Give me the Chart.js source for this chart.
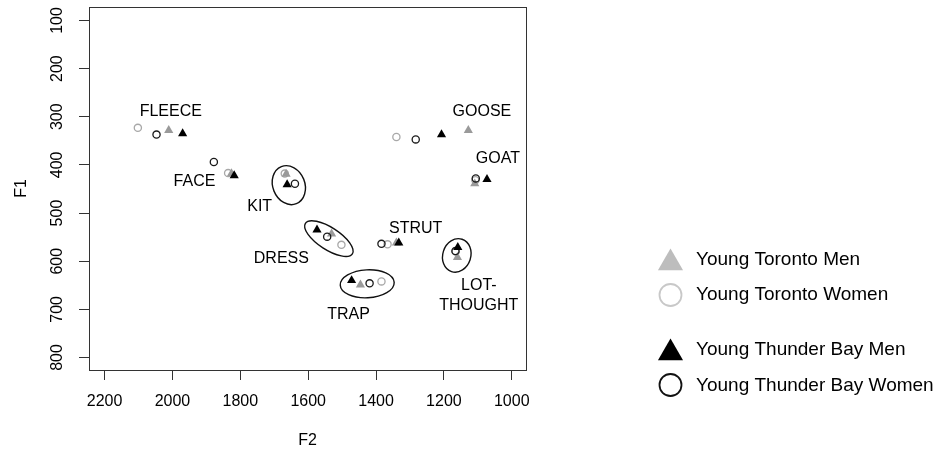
<!DOCTYPE html>
<html>
<head>
<meta charset="utf-8">
<script src="https://cdn.jsdelivr.net/npm/chart.js@4.4.1/dist/chart.umd.min.js"></script>
<style>
html, body { margin: 0; padding: 0; background: #fff; }
</style>
</head>
<body>
<canvas id="myChart" width="938" height="450"></canvas>
<script>
// vowel order used by every series below
var vowels = ['FLEECE', 'FACE', 'KIT', 'DRESS', 'TRAP', 'STRUT', 'LOT-THOUGHT', 'GOOSE', 'GOAT'];

// Young Toronto Men (grey triangles)
var toMenF2 = [2011, 1826, 1665, 1531, 1446, 1340, 1160, 1128, 1109];
var toMenF1 = [328, 418, 419, 543, 649, 562, 592, 328, 439];
// Young Toronto Women (grey circles)
var toWomenF2 = [2102, 1836, 1669, 1502, 1384, 1366, 1165, 1340, 1107];
var toWomenF1 = [323, 417, 418, 566, 642, 565, 580, 342, 432];
// Young Thunder Bay Men (black triangles)
var tbMenF2 = [1970, 1818, 1662, 1574, 1472, 1333, 1159, 1207, 1073];
var tbMenF1 = [335, 422, 441, 535, 640, 562, 571, 337, 430];
// Young Thunder Bay Women (black circles)
var tbWomenF2 = [2047, 1878, 1639, 1544, 1419, 1384, 1166, 1283, 1106];
var tbWomenF1 = [337, 394, 439, 549, 646, 564, 579, 347, 428];

// vowel labels
var labelText = [['FLEECE'], ['FACE'], ['KIT'], ['DRESS'], ['TRAP'], ['STRUT'], ['LOT-', 'THOUGHT'], ['GOOSE'], ['GOAT']];
var labelF2 = [2005, 1935, 1743, 1679, 1481, 1283, 1097, 1088, 1041];
var labelF1 = [290, 435, 486, 594, 710, 532, 671, 290, 387];

// ellipses round the clusters
var ellipseVowels = ['KIT', 'DRESS', 'TRAP', 'LOT-THOUGHT'];
var ellipseF2 = [1657, 1539, 1426, 1162];
var ellipseF1 = [442, 553, 647, 588];

var xTicks = [2200, 2000, 1800, 1600, 1400, 1200, 1000];
var yTicks = [100, 200, 300, 400, 500, 600, 700, 800];

var seriesNames = ['Young Toronto Men', 'Young Toronto Women', 'Young Thunder Bay Men', 'Young Thunder Bay Women'];

function pts(f2, f1)
{
    var out = [];
    for (var i = 0; i < f2.length; i++) {
        out.push({x: f2[i], y: f1[i]});
    }
    return out;
}

var ellipseShape = [
    {rx: 16, ry: 20, rot: -22},
    {rx: 28, ry: 11, rot: 33},
    {rx: 27, ry: 14, rot: -3},
    {rx: 14, ry: 17, rot: 18}
];

var legendRows = [
    {kind: 'triangle', fill: '#bdbdbd', stroke: null, y: 263, ty: 265},
    {kind: 'circle', fill: null, stroke: '#c8c8c8', y: 295, ty: 300},
    {kind: 'triangle', fill: '#000', stroke: null, y: 353, ty: 355},
    {kind: 'circle', fill: null, stroke: '#111', y: 385, ty: 391}
];

var extras = {
    id: 'extras',
    beforeDatasetsDraw: function(chart) {
        var a = chart.chartArea;
        var ctx = chart.ctx;
        ctx.save();
        ctx.strokeStyle = '#333';
        ctx.lineWidth = 1;
        ctx.strokeRect(Math.round(a.left) + 0.5, Math.round(a.top) + 0.5,
            Math.round(a.right - a.left), Math.round(a.bottom - a.top));
        ctx.restore();
    },
    afterDatasetsDraw: function(chart) {
        var sx = chart.scales.x, sy = chart.scales.y, ctx = chart.ctx;
        var i, j;
        ctx.save();
        // ellipses
        ctx.strokeStyle = '#111';
        ctx.lineWidth = 1.4;
        for (i = 0; i < ellipseF2.length; i++) {
            var s = ellipseShape[i];
            ctx.beginPath();
            ctx.ellipse(sx.getPixelForValue(ellipseF2[i]), sy.getPixelForValue(ellipseF1[i]),
                s.rx, s.ry, s.rot * Math.PI / 180, 0, 2 * Math.PI);
            ctx.stroke();
        }
        // vowel labels
        ctx.fillStyle = '#000';
        ctx.font = '16px "Liberation Sans", Arial, sans-serif';
        ctx.textAlign = 'center';
        ctx.textBaseline = 'middle';
        for (i = 0; i < labelText.length; i++) {
            var lines = labelText[i];
            var cx = sx.getPixelForValue(labelF2[i]);
            var cy = sy.getPixelForValue(labelF1[i]) - (lines.length - 1) * 10;
            for (j = 0; j < lines.length; j++) {
                ctx.fillText(lines[j], cx, cy + j * 20);
            }
        }
        // legend
        ctx.textAlign = 'left';
        ctx.textBaseline = 'alphabetic';
        ctx.font = '19px "Liberation Sans", Arial, sans-serif';
        for (i = 0; i < legendRows.length; i++) {
            var r = legendRows[i];
            var lx = 670.5;
            ctx.beginPath();
            if (r.kind === 'triangle') {
                var rad = 14.5;
                ctx.moveTo(lx, r.y - rad);
                ctx.lineTo(lx + rad * Math.sin(2 * Math.PI / 3), r.y + rad / 2);
                ctx.lineTo(lx - rad * Math.sin(2 * Math.PI / 3), r.y + rad / 2);
                ctx.closePath();
                ctx.fillStyle = r.fill;
                ctx.fill();
            } else {
                ctx.arc(lx, r.y, 11, 0, 2 * Math.PI);
                ctx.strokeStyle = r.stroke;
                ctx.lineWidth = 1.8;
                ctx.stroke();
            }
            ctx.fillStyle = '#000';
            ctx.fillText(seriesNames[i], 696, r.ty);
        }
        ctx.restore();
    }
};

Chart.defaults.font.family = '"Liberation Sans", Arial, Helvetica, sans-serif';
Chart.defaults.font.size = 16;
Chart.defaults.color = '#000';

function plainNum(v)
{
    return String(v);
}

function noEdgePadding(scale)
{
    scale.paddingTop = 0;
    scale.paddingBottom = 0;
    scale.paddingLeft = 0;
    scale.paddingRight = 0;
}

var ctx = document.getElementById('myChart').getContext('2d');
var myChart = new Chart(ctx, {
    type: 'scatter',
    data: {
        datasets: [{
            label: seriesNames[0],
            data: pts(toMenF2, toMenF1),
            pointStyle: 'triangle',
            pointRadius: 5.3,
            pointBackgroundColor: '#9a9a9a',
            pointBorderColor: '#9a9a9a',
            pointBorderWidth: 0,
            order: 2
        }, {
            label: seriesNames[1],
            data: pts(toWomenF2, toWomenF1),
            pointStyle: 'circle',
            pointRadius: 3.6,
            pointBackgroundColor: 'rgba(0,0,0,0)',
            pointBorderColor: '#a8a8a8',
            pointBorderWidth: 1.3,
            order: 3
        }, {
            label: seriesNames[2],
            data: pts(tbMenF2, tbMenF1),
            pointStyle: 'triangle',
            pointRadius: 5.3,
            pointBackgroundColor: '#000',
            pointBorderColor: '#000',
            pointBorderWidth: 0,
            order: 0
        }, {
            label: seriesNames[3],
            data: pts(tbWomenF2, tbWomenF1),
            pointStyle: 'circle',
            pointRadius: 3.6,
            pointBackgroundColor: 'rgba(0,0,0,0)',
            pointBorderColor: '#1a1a1a',
            pointBorderWidth: 1.3,
            order: 1
        }]
    },
    options: {
        responsive: false,
        animation: false,
        events: [],
        layout: { padding: { left: 0, top: 7, right: 412, bottom: 0 } },
        plugins: {
            legend: { display: false },
            tooltip: { enabled: false }
        },
        scales: {
            x: {
                type: 'linear',
                position: 'bottom',
                reverse: true,
                min: 958,
                max: 2246,
                afterFit: function(scale) { scale.height = 80; noEdgePadding(scale); },
                afterBuildTicks: function(scale) {
                    scale.ticks = xTicks.map(function(v) { return {value: v}; });
                },
                border: { display: false },
                grid: { drawOnChartArea: false, drawTicks: true, tickLength: 10, color: '#333', lineWidth: 1 },
                ticks: { padding: 12, maxRotation: 0, minRotation: 0, color: '#000', callback: plainNum },
                title: { display: true, text: 'F2', padding: { top: 0, bottom: 0 }, color: '#000' }
            },
            y: {
                type: 'linear',
                position: 'left',
                reverse: true,
                min: 72,
                max: 826,
                afterFit: function(scale) { scale.width = 89; noEdgePadding(scale); },
                afterBuildTicks: function(scale) {
                    scale.ticks = yTicks.map(function(v) { return {value: v}; });
                },
                border: { display: false },
                grid: { drawOnChartArea: false, drawTicks: true, tickLength: 10, color: '#333', lineWidth: 1 },
                ticks: { padding: 8, crossAlign: 'center', minRotation: 90, maxRotation: 90, color: '#000', callback: plainNum },
                title: { display: true, text: 'F1', padding: { top: 12, bottom: 0 }, color: '#000' }
            }
        }
    },
    plugins: [extras]
});
</script>
</body>
</html>
